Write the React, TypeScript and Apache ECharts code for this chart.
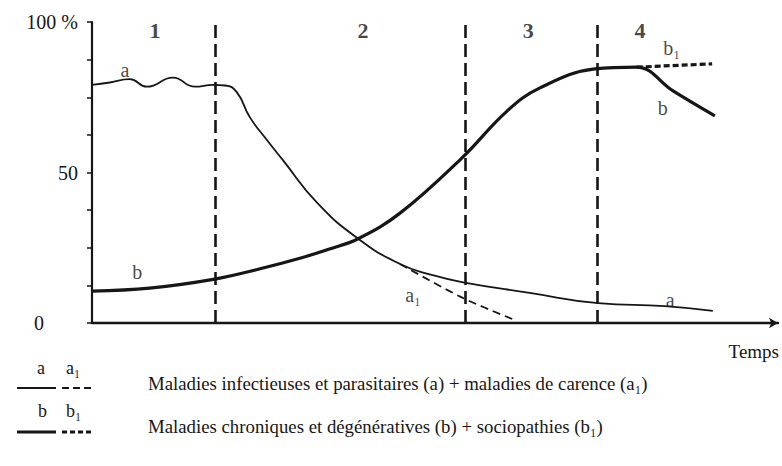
import React, { useEffect, useRef } from "react";
import * as echarts from "echarts";

// Time axis in arbitrary units (0–100), share of mortality in %
const aTime = [0, 2.6, 5.5, 8.0, 11.8, 15.0, 17.6, 19.4, 21.1, 23.0, 25.5, 27.8, 32.8, 38.8, 44.9, 49.5, 54.1, 63.8, 73.8, 83.5, 90.5];
const aValue = [79.1, 79.9, 81.0, 78.5, 81.5, 78.5, 79.1, 78.9, 76.7, 68.4, 60.8, 54.2, 40.0, 28.0, 19.6, 16.0, 13.5, 10.0, 6.6, 5.6, 4.0];

const a1Time = [44.9, 53.9, 61.4];
const a1Value = [19.6, 8.5, 1.2];

const bTime = [0, 8.4, 17.9, 24.5, 30.3, 34.5, 38.8, 44.9, 53.9, 60.5, 65.3, 73.3, 79.4, 84.7, 90.8];
const bValue = [10.6, 11.6, 14.6, 18.0, 21.5, 24.5, 28.0, 36.5, 54.8, 70.4, 78.1, 84.4, 85.0, 77.1, 68.8];

const b1Time = [79.4, 90.4];
const b1Value = [85.0, 86.1];

const phaseBounds = [17.9, 54.4, 73.6];
const phaseNames = ["1", "2", "3", "4"];
const phaseNameTime = [9.2, 39.5, 63.6, 79.9];
const phaseNameValue = [97.3, 97.3, 97.3, 97.3];

const curveLabels = ["a", "b", "a₁", "a", "b₁", "b"];
const curveLabelTime = [4.8, 6.6, 46.8, 84.3, 84.5, 83.2];
const curveLabelValue = [84.0, 16.9, 9.3, 7.6, 91.4, 71.4];

const yLabelShown: Record<number, string> = { 0: "0", 50: "50", 100: "100 %" };

const legendRow1 = "Maladies infectieuses et parasitaires (a) + maladies de carence (a₁)";
const legendRow2 = "Maladies chroniques et dégénératives (b) + sociopathies (b₁)";

const INK = "#161616";
const SERIF = "'Liberation Serif', 'DejaVu Serif', serif";

const zip = (xs: number[], ys: number[]) => xs.map((x, i) => [x, ys[i]]);

export default function App() {
  const ref = useRef<HTMLDivElement>(null);
  useEffect(() => {
    document.body.style.margin = "0";
    if (!ref.current) return;
    const chart = echarts.init(ref.current, null, { renderer: "svg" });
    chart.setOption({
      animation: false,
      backgroundColor: "#ffffff",
      grid: { left: 92, right: 4, top: 22, bottom: 143, containLabel: false },
      xAxis: {
        type: "value",
        min: 0,
        max: 100,
        axisLine: {
          show: true,
          onZero: false,
          symbol: ["none", "arrow"],
          symbolSize: [8, 9],
          lineStyle: { color: INK, width: 2.4 },
        },
        axisTick: { show: false },
        axisLabel: { show: false },
        splitLine: { show: false },
      },
      yAxis: {
        type: "value",
        min: 0,
        max: 100,
        interval: 12.5,
        axisLine: { show: true, lineStyle: { color: INK, width: 2.2 } },
        axisTick: { show: true, inside: false, length: 5, lineStyle: { color: INK, width: 1.5 } },
        splitLine: { show: false },
        axisLabel: {
          margin: 14,
          fontFamily: SERIF,
          fontSize: 20,
          color: INK,
          formatter: (v: number) => {
            const s = yLabelShown[v];
            if (s === undefined) return "";
            return v === 0 ? "{z|" + s + "}" : s;
          },
          rich: { z: { fontFamily: SERIF, fontSize: 20, color: INK, padding: [0, 34, 0, 0] } },
        },
      },
      series: [
        {
          type: "line",
          name: "a",
          data: zip(aTime, aValue),
          smooth: 0.5,
          symbol: "none",
          lineStyle: { color: INK, width: 1.8 },
          markLine: {
            silent: true,
            symbol: "none",
            label: { show: false },
            lineStyle: { color: INK, width: 2.6, type: [13, 6] },
            data: phaseBounds.map((x) => ({ xAxis: x })),
          },
          z: 3,
        },
        {
          type: "line",
          name: "a1",
          data: zip(a1Time, a1Value),
          smooth: 0.3,
          symbol: "none",
          lineStyle: { color: INK, width: 1.8, type: [8, 5] },
        },
        {
          type: "line",
          name: "b",
          data: zip(bTime, bValue),
          smooth: 0.4,
          symbol: "none",
          lineStyle: { color: INK, width: 3.2 },
        },
        {
          type: "line",
          name: "b1",
          data: zip(b1Time, b1Value),
          symbol: "none",
          lineStyle: { color: INK, width: 3.2, type: [6, 3] },
        },
        {
          type: "scatter",
          name: "phases",
          data: zip(phaseNameTime, phaseNameValue).map((d, i) => ({ value: d, name: phaseNames[i] })),
          symbolSize: 0,
          silent: true,
          label: {
            show: true,
            position: "inside",
            formatter: (p: any) => p.name,
            fontFamily: SERIF,
            fontWeight: "bold",
            fontSize: 22,
            color: INK,
          },
        },
        {
          type: "scatter",
          name: "curveLabels",
          data: zip(curveLabelTime, curveLabelValue).map((d, i) => ({ value: d, name: curveLabels[i] })),
          symbolSize: 0,
          silent: true,
          label: {
            show: true,
            position: "inside",
            formatter: (p: any) => p.name,
            fontFamily: SERIF,
            fontSize: 20,
            color: INK,
          },
        },
      ],
      graphic: [
        {
          type: "text",
          right: 3,
          top: 342,
          style: { text: "Temps", font: "19px " + SERIF, fill: INK },
        },
        // legend row 1
        { type: "text", left: 37, top: 359, style: { text: "a", font: "18px " + SERIF, fill: INK } },
        { type: "text", left: 66, top: 359, style: { text: "a₁", font: "18px " + SERIF, fill: INK } },
        { type: "line", shape: { x1: 17, y1: 388, x2: 56, y2: 388 }, style: { stroke: INK, lineWidth: 1.8 } },
        { type: "line", shape: { x1: 62, y1: 388, x2: 93, y2: 388 }, style: { stroke: INK, lineWidth: 1.8, lineDash: [7, 4] } },
        { type: "text", left: 148, top: 374, style: { text: legendRow1, font: "18.8px " + SERIF, fill: INK } },
        // legend row 2
        { type: "text", left: 38, top: 402, style: { text: "b", font: "18px " + SERIF, fill: INK } },
        { type: "text", left: 66, top: 402, style: { text: "b₁", font: "18px " + SERIF, fill: INK } },
        { type: "line", shape: { x1: 17, y1: 432, x2: 56, y2: 432 }, style: { stroke: INK, lineWidth: 3.2 } },
        { type: "line", shape: { x1: 62, y1: 432, x2: 93, y2: 432 }, style: { stroke: INK, lineWidth: 3.2, lineDash: [5, 3] } },
        { type: "text", left: 148, top: 417, style: { text: legendRow2, font: "18.8px " + SERIF, fill: INK } },
      ],
    });
    return () => chart.dispose();
  }, []);
  return <div ref={ref} style={{ width: 782, height: 466 }} />;
}
